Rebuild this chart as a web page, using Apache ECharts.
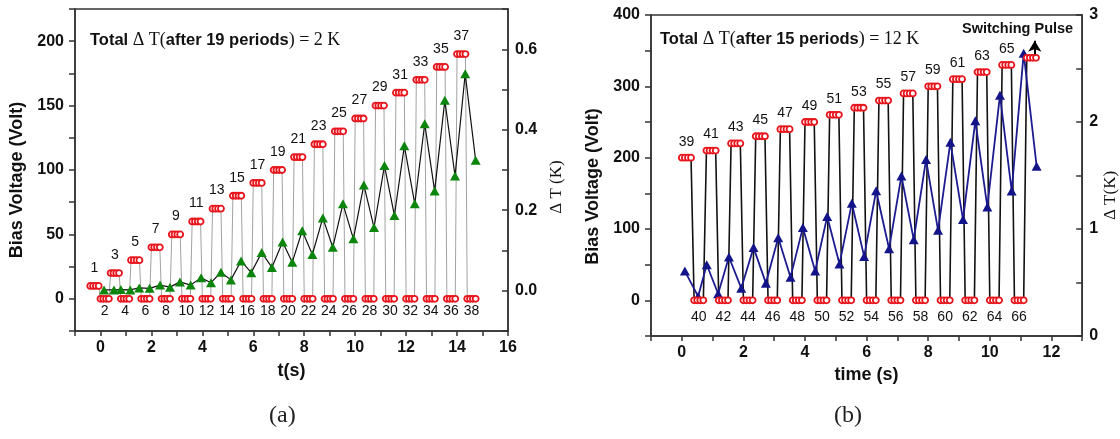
<!DOCTYPE html>
<html><head><meta charset="utf-8">
<script src="https://cdn.jsdelivr.net/npm/echarts@6/dist/echarts.min.js"></script>
<style>html,body{margin:0;padding:0;background:#fff}#c{width:1120px;height:439px}</style>
</head><body><div id="c"></div>
<script>
// ---------- Panel (a) ----------
const pulseLabelA = ['1','2','3','4','5','6','7','8','9','10','11','12','13','14','15','16','17','18','19','20','21','22','23','24','25','26','27','28','29','30','31','32','33','34','35','36','37','38'];
const pulseStartA = [-0.4,0.0,0.4,0.8,1.2,1.6,2.0,2.4,2.8,3.2,3.6,4.0,4.4,4.8,5.2,5.6,6.0,6.4,6.8,7.2,7.6,8.0,8.4,8.8,9.2,9.6,10.0,10.4,10.8,11.2,11.6,12.0,12.4,12.8,13.2,13.6,14.0,14.4];
const pulseVoltA = [10,0,20,0,30,0,40,0,50,0,60,0,70,0,80,0,90,0,100,0,110,0,120,0,130,0,140,0,150,0,160,0,170,0,180,0,190,0];
const sampleOffsetsA = [0, 0.11, 0.22, 0.33];
const dTtimeA = [0.14,0.53,0.80,1.17,1.52,1.93,2.34,2.73,3.12,3.54,3.95,4.34,4.73,5.12,5.52,5.92,6.33,6.73,7.15,7.53,7.92,8.32,8.73,9.12,9.52,9.93,10.34,10.74,11.15,11.54,11.93,12.34,12.73,13.12,13.52,13.92,14.32,14.73];
const dTA = [0.002,0.002,0.003,0.002,0.007,0.006,0.014,0.009,0.022,0.014,0.032,0.020,0.046,0.027,0.074,0.045,0.095,0.058,0.121,0.071,0.149,0.090,0.181,0.108,0.216,0.129,0.263,0.157,0.311,0.187,0.360,0.216,0.415,0.248,0.473,0.285,0.539,0.324];

// ---------- Panel (b) ----------
const pulseLabelB = ['39','40','41','42','43','44','45','46','47','48','49','50','51','52','53','54','55','56','57','58','59','60','61','62','63','64','65','66',''];
const pulseStartB = [0.0,0.4,0.8,1.2,1.6,2.0,2.4,2.8,3.2,3.6,4.0,4.4,4.8,5.2,5.6,6.0,6.4,6.8,7.2,7.6,8.0,8.4,8.8,9.2,9.6,10.0,10.4,10.8,11.2];
const pulseVoltB = [200,0,210,0,220,0,230,0,240,0,250,0,260,0,270,0,280,0,290,0,300,0,310,0,320,0,330,0,340];
const sampleOffsetsB = [0, 0.1, 0.2, 0.3];
const dTtimeB = [0.10,0.53,0.81,1.18,1.53,1.93,2.33,2.73,3.13,3.53,3.93,4.33,4.72,5.12,5.52,5.92,6.31,6.73,7.13,7.53,7.93,8.32,8.72,9.13,9.53,9.92,10.33,10.71,11.10,11.52];
const dTB = [0.607,0.370,0.666,0.395,0.738,0.447,0.826,0.494,0.919,0.550,1.013,0.607,1.116,0.672,1.240,0.744,1.357,0.816,1.496,0.900,1.649,0.988,1.811,1.088,2.011,1.206,2.251,1.355,2.642,1.587];
const arrowB = [[11.46, 345], [11.46, 364]];

// tick label lists
const xTicksA = [0,2,4,6,8,10,12,14,16];
const yLeftTicksA = [0,50,100,150,200];
const yRightTicksA = [0.0,0.2,0.4,0.6];
const xTicksB = [0,2,4,6,8,10,12];
const yLeftTicksB = [0,100,200,300,400];
const yRightTicksB = [0,1,2,3];

const SANS = 'Liberation Sans, Arial, sans-serif';
const SERIF = 'Liberation Serif, Times New Roman, serif';

function pulsePoints(starts, volts, offs) {
  const pts = [];
  starts.forEach((s, i) => offs.forEach(o => pts.push([+(s + o).toFixed(3), volts[i]])));
  return pts;
}
function labelData(starts, volts, labels, offs, wantHigh) {
  const mid = (offs[0] + offs[offs.length - 1]) / 2;
  const out = [];
  starts.forEach((s, i) => {
    if (labels[i] === '') return;
    if ((volts[i] > 0) === wantHigh) out.push([+(s + mid).toFixed(3), volts[i], labels[i]]);
  });
  return out;
}
function zip(a, b) { return a.map((v, i) => [v, b[i]]); }
function near(list, v, eps) { return list.some(t => Math.abs(t - v) < eps); }

const axisLine = {show: true, onZero: false, lineStyle: {color: '#333', width: 1.5}};
const labelBase = {fontSize: 16, fontWeight: 'bold', color: '#111', fontFamily: SANS, showMinLabel: true, showMaxLabel: true};

function xAxis(grid, min, max, ticks, name, gap) {
  return {gridIndex: grid, type: 'value', min: min, max: max, interval: 1,
    axisLine: axisLine, axisTick: {show: true, length: 5, lineStyle: {color: '#333', width: 1.5}},
    splitLine: {show: false},
    axisLabel: Object.assign({}, labelBase, {margin: 9, formatter: v => near(ticks, v, 1e-6) ? String(v) : ''}),
    name: name, nameLocation: 'middle', nameGap: gap,
    nameTextStyle: {fontSize: 18, fontWeight: 'bold', color: '#111', fontFamily: SANS}};
}
function yLeft(grid, min, max, interval, ticks, padR) {
  return {gridIndex: grid, type: 'value', position: 'left', min: min, max: max, interval: interval,
    axisLine: axisLine, axisTick: {show: true, length: 6, lineStyle: {color: '#333', width: 1.5}},
    splitLine: {show: false},
    axisLabel: Object.assign({}, labelBase, {margin: 11, formatter: v => near(ticks, v, 1e-6) ? String(v) : ''}),
    name: 'Bias Voltage (Volt)', nameLocation: 'middle', nameGap: 49, nameRotate: 90,
    nameTextStyle: {fontSize: 18, fontWeight: 'bold', color: '#111', fontFamily: SANS, padding: [0, padR, 0, 0]}};
}
function yRight(grid, min, max, interval, ticks, digits, name, gap, padR) {
  return {gridIndex: grid, type: 'value', position: 'right', min: min, max: max, interval: interval,
    axisLine: axisLine, axisTick: {show: true, inside: true, length: 6, lineStyle: {color: '#333', width: 1.5}},
    splitLine: {show: false},
    axisLabel: Object.assign({}, labelBase, {margin: 7, formatter: v => near(ticks, v, 1e-6) ? v.toFixed(digits) : ''}),
    name: name, nameLocation: 'middle', nameGap: gap, nameRotate: 90,
    nameTextStyle: {fontSize: 17, color: '#111', fontFamily: SERIF, padding: [0, padR, 0, 0]}};
}
function labelSeries(xi, yi, data, dy) {
  return {type: 'scatter', xAxisIndex: xi, yAxisIndex: yi, data: data, symbolSize: 1, silent: true, z: 5,
    itemStyle: {color: 'rgba(0,0,0,0)', opacity: 1},
    label: {show: true, position: 'inside', offset: [0, dy], formatter: p => p.value[2],
      fontSize: 14, color: '#111', fontFamily: SANS, textBorderWidth: 0}};
}
const redMarker = {color: '#fff', borderColor: '#e8141c', borderWidth: 1.8, opacity: 1};

const voltA = pulsePoints(pulseStartA, pulseVoltA, sampleOffsetsA);
const voltB = pulsePoints(pulseStartB, pulseVoltB, sampleOffsetsB);

const chart = echarts.init(document.getElementById('c'), null, {renderer: 'canvas'});
chart.setOption({
  animation: false,
  backgroundColor: '#fff',
  grid: [
    {left: 75, top: 9, width: 433, height: 322, show: true, borderColor: '#333', borderWidth: 1.5, backgroundColor: 'transparent'},
    {left: 651, top: 15, width: 433, height: 321, show: true, borderColor: '#333', borderWidth: 1.5, backgroundColor: 'transparent'}
  ],
  xAxis: [
    xAxis(0, -1, 16, xTicksA, 't(s)', 31),
    xAxis(1, -1, 13, xTicksB, 'time (s)', 28)
  ],
  yAxis: [
    yLeft(0, -25, 225, 25, yLeftTicksA, 20),
    yRight(0, -0.1, 0.7, 0.1, yRightTicksA, 1, 'Δ T (K)', 40, 34),
    yLeft(1, -50, 400, 50, yLeftTicksB, 22),
    yRight(1, 0, 3, 0.5, yRightTicksB, 0, 'Δ T(K)', 18, 40)
  ],
  series: [
    // (a)
    {type: 'line', xAxisIndex: 0, yAxisIndex: 0, data: voltA, symbol: 'none', silent: true, z: 1,
      lineStyle: {color: '#a3a3a3', width: 1}},
    {type: 'line', xAxisIndex: 0, yAxisIndex: 1, data: zip(dTtimeA, dTA), symbol: 'triangle', symbolSize: [10, 9],
      showSymbol: true, silent: true, z: 2, itemStyle: {color: '#0b850b', opacity: 1}, lineStyle: {color: '#111', width: 1.2}},
    {type: 'scatter', xAxisIndex: 0, yAxisIndex: 0, data: voltA, symbol: 'circle', symbolSize: 6, silent: true, z: 3,
      itemStyle: redMarker},
    labelSeries(0, 0, labelData(pulseStartA, pulseVoltA, pulseLabelA, sampleOffsetsA, true), -18),
    labelSeries(0, 0, labelData(pulseStartA, pulseVoltA, pulseLabelA, sampleOffsetsA, false), 12.5),
    // (b)
    {type: 'line', xAxisIndex: 1, yAxisIndex: 2, data: voltB, symbol: 'none', silent: true, z: 1,
      lineStyle: {color: '#111', width: 1.6}},
    {type: 'line', xAxisIndex: 1, yAxisIndex: 3, data: zip(dTtimeB, dTB), symbol: 'triangle', symbolSize: [10, 9],
      showSymbol: true, silent: true, z: 2, itemStyle: {color: '#14148a', opacity: 1}, lineStyle: {color: '#1c1c90', width: 1.8}},
    {type: 'scatter', xAxisIndex: 1, yAxisIndex: 2, data: voltB, symbol: 'circle', symbolSize: 6, silent: true, z: 3,
      itemStyle: redMarker,
      markLine: {silent: true, symbol: ['none', 'arrow'], symbolSize: [10, 11], label: {show: false},
        lineStyle: {color: '#000', width: 2, type: 'solid', opacity: 1},
        data: [[{coord: arrowB[0]}, {coord: arrowB[1]}]]}},
    labelSeries(1, 2, labelData(pulseStartB, pulseVoltB, pulseLabelB, sampleOffsetsB, true), -16),
    labelSeries(1, 2, labelData(pulseStartB, pulseVoltB, pulseLabelB, sampleOffsetsB, false), 16.5)
  ],
  graphic: [
    {type: 'text', left: 90, top: 31, silent: true, style: {
      text: '{b|Total }{s|Δ T(}{b|after 19 periods}{s|) = 2 K}',
      rich: {b: {fontFamily: SANS, fontWeight: 'bold', fontSize: 16.5, fill: '#111'},
             s: {fontFamily: SERIF, fontSize: 18, fill: '#111'}}}},
    {type: 'text', left: 660, top: 30, silent: true, style: {
      text: '{b|Total }{s|Δ T(}{b|after 15 periods}{s|) = 12 K}',
      rich: {b: {fontFamily: SANS, fontWeight: 'bold', fontSize: 16.5, fill: '#111'},
             s: {fontFamily: SERIF, fontSize: 18, fill: '#111'}}}},
    {type: 'text', left: 962, top: 21, silent: true, style: {
      text: 'Switching Pulse', fontFamily: SANS, fontWeight: 'bold', fontSize: 14.5, fill: '#111'}},
    {type: 'text', left: 269, top: 404, silent: true, style: {
      text: '(a)', fontFamily: SERIF, fontSize: 24, fill: '#222'}},
    {type: 'text', left: 834, top: 404, silent: true, style: {
      text: '(b)', fontFamily: SERIF, fontSize: 24, fill: '#222'}}
  ]
});
</script>
</body></html>
